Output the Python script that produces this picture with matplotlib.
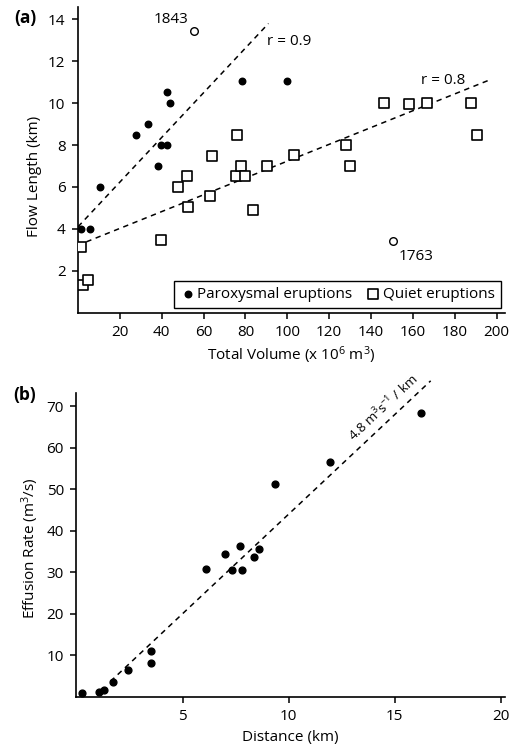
import matplotlib
matplotlib.use("Agg")
import matplotlib.pyplot as plt
import numpy as np

plt.rcParams['font.family'] = ['Open Sans', 'DejaVu Sans']
plt.rcParams['mathtext.default'] = 'regular'

# (a) flow length vs erupted volume
parox_vol = [1.3, 5.6, 10.4, 27.6, 33.4, 38.0, 39.6, 42.3, 42.3, 43.8, 78.4, 100.1]
parox_len = [4.0, 4.0, 6.0, 8.5, 9.0, 7.0, 8.0, 8.0, 10.55, 10.0, 11.05, 11.05]

quiet_vol = [1.6, 2.4, 4.8, 39.6, 47.7, 51.9, 52.7, 63.1, 64.2, 75.4, 76.0, 77.8,
             79.8, 83.8, 90.2, 103.0, 128.2, 129.8, 146.1, 158.0, 166.9, 187.6, 190.5]
quiet_len = [3.15, 1.3, 1.55, 3.47, 6.0, 6.5, 5.04, 5.55, 7.5, 6.5, 8.5, 7.0,
             6.5, 4.92, 7.0, 7.52, 8.0, 7.0, 10.0, 9.97, 10.0, 10.0, 8.48]

outlier_vol = [55.3, 150.6]
outlier_len = [13.44, 3.43]
outlier_year = ['1843', '1763']

# regression lines: (intercept, slope, x start, x end, label)
fit_parox = (4.1, 0.1066, 0, 91, 'r = 0.9')
fit_quiet = (3.22, 0.0401, 4, 196, 'r = 0.8')

# (b) effusion rate vs distance
dist_km = [0.25, 1.07, 1.32, 1.71, 2.42, 3.49, 3.49, 6.10, 6.98, 7.33, 7.71, 7.82,
           8.35, 8.59, 9.34, 11.93, 16.24]
eff_rate = [0.9, 1.1, 1.6, 3.5, 6.5, 8.1, 11.0, 30.9, 34.5, 30.5, 36.4, 30.6,
            33.6, 35.6, 51.2, 56.7, 68.5]
rate_slope = 4.8
rate_icpt = -4.0

FS = 11

fig = plt.figure(figsize=(5.1, 7.48), dpi=100)
ax1 = fig.add_axes([0.153, 0.582, 0.837, 0.409])
ax2 = fig.add_axes([0.150, 0.0686, 0.840, 0.4064])


def style_axes(ax):
    ax.spines['top'].set_visible(False)
    ax.spines['right'].set_visible(False)
    for s in ('left', 'bottom'):
        ax.spines[s].set_linewidth(1.2)
    ax.tick_params(direction='out', length=4.5, width=1.1, labelsize=FS, pad=4.5)


# ---- panel (a)
style_axes(ax1)
ax1.scatter(parox_vol, parox_len, s=22, c='black', marker='o', zorder=3,
            label='Paroxysmal eruptions')
ax1.scatter(quiet_vol, quiet_len, s=42, facecolors='white', edgecolors='black',
            linewidths=1.2, marker='s', zorder=3, label='Quiet eruptions')
ax1.scatter(outlier_vol, outlier_len, s=30, facecolors='white', edgecolors='black',
            linewidths=1.0, marker='o', zorder=3)

for b0, m, x0, x1, lab in (fit_parox, fit_quiet):
    xs = np.array([x0, x1])
    ax1.plot(xs, b0 + m * xs, ls=(0, (3.5, 3)), lw=1.1, color='black', zorder=2)

ax1.text(90.5, 12.96, fit_parox[4], fontsize=FS, va='center', ha='left')
ax1.text(164.1, 11.08, fit_quiet[4], fontsize=FS, va='center', ha='left')
ax1.text(52.8, 14.0, outlier_year[0], fontsize=FS, va='center', ha='right')
ax1.text(153.3, 2.7, outlier_year[1], fontsize=FS, va='center', ha='left')

ax1.set_xlim(0, 204)
ax1.set_ylim(0, 14.6)
ax1.set_xticks(range(20, 201, 20))
ax1.set_yticks(range(2, 15, 2))
ax1.set_xlabel('Total Volume (x 10$^{6}$ m$^{3}$)', fontsize=FS)
ax1.set_ylabel('Flow Length (km)', fontsize=FS)
ax1.xaxis.set_label_coords(0.5, -0.105)
ax1.yaxis.set_label_coords(-0.085, 0.444)

leg = ax1.legend(loc='lower right', bbox_to_anchor=(0.99, 0.014), ncol=2,
                 fontsize=FS, frameon=True, fancybox=False, framealpha=1,
                 edgecolor='black', handletextpad=0.1, columnspacing=0.9,
                 borderpad=0.4, handlelength=1.0, borderaxespad=0)
leg.get_frame().set_linewidth(1.0)

fig.text(0.049, 1 - 18 / 748, '(a)', fontsize=FS + 1.5, fontweight='bold',
         ha='center', va='center')

# ---- panel (b)
style_axes(ax2)
ax2.scatter(dist_km, eff_rate, s=24, c='black', marker='o', zorder=3, clip_on=False)

xs = np.array([1.6, 16.7])
ax2.plot(xs, rate_icpt + rate_slope * xs, ls=(0, (3.5, 3)), lw=1.1, color='black',
         clip_on=False, zorder=2)

ax2.set_xlim(0, 20.2)
ax2.set_ylim(0, 73.3)
ax2.set_xticks([5, 10, 15, 20])
ax2.set_yticks(range(10, 71, 10))
ax2.set_xlabel('Distance (km)', fontsize=FS)
ax2.set_ylabel('Effusion Rate (m$^{3}$/s)', fontsize=FS)
ax2.xaxis.set_label_coords(0.5, -0.108)
ax2.yaxis.set_label_coords(-0.082, 0.49)

# rate label rotated along the fit line
lx = 13.2
ax2.text(lx, rate_icpt + rate_slope * lx + 1.5, '4.8 m$^{3}$s$^{-1}$ / km',
         fontsize=FS - 1.5, rotation=np.degrees(np.arctan(rate_slope)),
         transform_rotates_text=True, rotation_mode='anchor',
         ha='left', va='bottom')

fig.text(0.049, 1 - 395 / 748, '(b)', fontsize=FS + 1.5, fontweight='bold',
         ha='center', va='center')

fig.savefig('out.png', dpi=100)
